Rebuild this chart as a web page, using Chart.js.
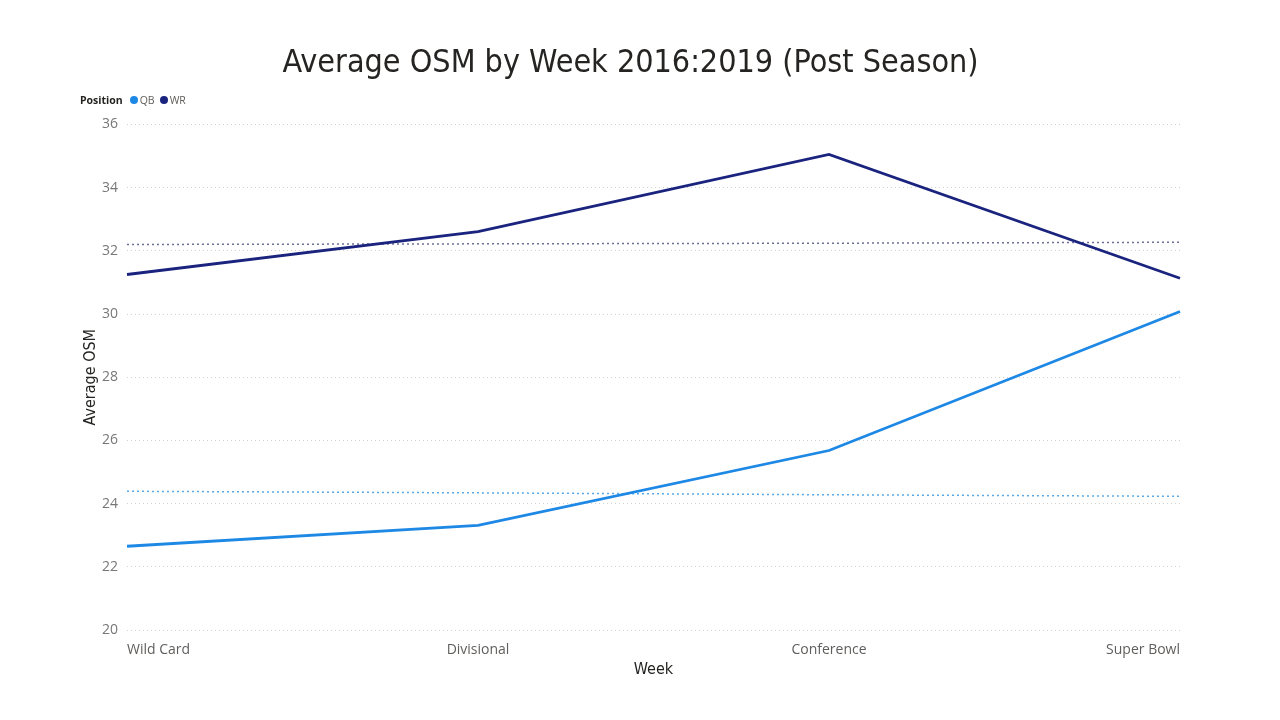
<!DOCTYPE html>
<html>
<head>
<meta charset="utf-8">
<script src="https://cdn.jsdelivr.net/npm/chart.js@4.4.1/dist/chart.umd.min.js"></script>
<style>
  html, body { margin: 0; padding: 0; background: #fff; }
  #wrap { position: relative; width: 1280px; height: 720px; }
  #legend {
    position: absolute; left: 80px; top: 93px;
    font-family: "Open Sans", sans-serif; font-size: 10.5px; color: #605E5C;
    display: flex; align-items: center;
  }
  #legend b { color: #252423; margin-right: 7px; }
  #legend .item { display: flex; align-items: center; margin-right: 5px; }
  #legend .dot { width: 8px; height: 8px; border-radius: 50%; margin-right: 2px; }
</style>
</head>
<body>
<div id="wrap">
  <canvas id="chart" width="1280" height="720"></canvas>
  <div id="legend"></div>
</div>
<script>
// data
const weeks = ['Wild Card', 'Divisional', 'Conference', 'Super Bowl'];
const qbValues = [22.65, 23.31, 25.68, 30.08];
const wrValues = [31.25, 32.61, 35.05, 31.13];
// dotted trend lines
const qbTrend = [24.39, 24.34, 24.28, 24.23];
const wrTrend = [32.20, 32.22, 32.24, 32.27];
const yTicks = [20, 22, 24, 26, 28, 30, 32, 34, 36];

const qbColor = '#1E88E5';
const wrColor = '#1A237E';

// legend in the Power BI style (label + dots on one line)
const legendEl = document.getElementById('legend');
legendEl.innerHTML = '<b>Position</b>' +
  [['QB', qbColor], ['WR', wrColor]].map(([name, col]) =>
    `<span class="item"><span class="dot" style="background:${col}"></span>${name}</span>`
  ).join('');

const ctx = document.getElementById('chart').getContext('2d');
new Chart(ctx, {
  type: 'line',
  data: {
    labels: weeks,
    datasets: [
      {
        label: 'QB',
        data: qbValues,
        borderColor: qbColor,
        borderWidth: 2.8,
        pointRadius: 0,
        tension: 0
      },
      {
        label: 'WR',
        data: wrValues,
        borderColor: wrColor,
        borderWidth: 2.8,
        pointRadius: 0,
        tension: 0
      },
      {
        label: 'QB trend',
        data: qbTrend,
        borderColor: '#5AA9E6',
        borderWidth: 1.5,
        borderDash: [2, 3],
        pointRadius: 0
      },
      {
        label: 'WR trend',
        data: wrTrend,
        borderColor: '#6B6F96',
        borderWidth: 1.5,
        borderDash: [2, 3],
        pointRadius: 0
      }
    ]
  },
  options: {
    responsive: false,
    animation: false,
    layout: { padding: { left: 81, right: 100, top: 0, bottom: 41 } },
    plugins: {
      legend: { display: false },
      tooltip: { enabled: false },
      title: {
        display: true,
        text: 'Average OSM by Week 2016:2019 (Post Season)',
        color: '#252423',
        font: { family: 'DejaVu Sans Condensed, DejaVu Sans', size: 32, weight: 'normal' },
        padding: { top: 44, bottom: 42 }
      }
    },
    scales: {
      x: {
        offset: false,
        grid: { display: false, drawTicks: false },
        border: { display: false },
        ticks: {
          align: 'inner',
          color: '#605E5C',
          padding: 12,
          font: { family: 'Open Sans', size: 14 }
        },
        title: {
          display: true,
          text: 'Week',
          color: '#252423',
          padding: { top: -11, bottom: 0 },
          font: { family: 'DejaVu Sans Condensed, DejaVu Sans', size: 16 }
        }
      },
      y: {
        min: 20,
        max: 36,
        afterBuildTicks: axis => { axis.ticks = yTicks.map(v => ({ value: v })); },
        afterFit: axis => { axis.width = 46; },
        grid: {
          color: '#D0D0D0',
          lineWidth: 1,
          drawTicks: false
        },
        border: { display: false, dash: [1, 3] },
        ticks: {
          color: '#777777',
          padding: 9,
          font: { family: 'Open Sans', size: 14 }
        },
        title: {
          display: true,
          text: 'Average OSM',
          color: '#252423',
          padding: 0,
          font: { family: 'DejaVu Sans Condensed, DejaVu Sans', size: 16 }
        }
      }
    }
  }
});
</script>
</body>
</html>
